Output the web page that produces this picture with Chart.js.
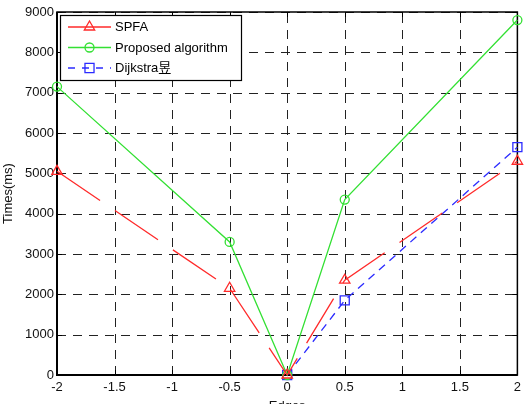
<!DOCTYPE html>
<html>
<head>
<meta charset="utf-8">
<script src="https://cdn.jsdelivr.net/npm/chart.js@4"></script>
<style>
  html, body { margin: 0; padding: 0; background: #fff; overflow: hidden; }
  #wrap { width: 526px; height: 404px; overflow: hidden; }
</style>
</head>
<body>
<div id="wrap"><canvas id="timeChart" width="526" height="415"></canvas></div>
<script>
// values
const edges = [-2, -0.5, 0, 0.5, 2];
const spfaTimes = [5050, 2150, 0, 2350, 5300];
const proposedTimes = [7150, 3300, 0, 4350, 8800];
const dijkstraEdges = [0, 0.5, 2];
const dijkstraTimes = [0, 1850, 5650];
const seriesNames = ['SPFA', 'Proposed algorithm', 'Dijkstra昱'];

const FONT = "'Liberation Sans', Arial, 'Noto Sans CJK SC', sans-serif";

const toPoints = (xs, ys) => xs.map((x, i) => ({ x: x, y: ys[i] }));

// dashed grid, box, inward ticks and the boxed legend, MATLAB style
const frame = {
    id: 'frame',
    beforeDatasetsDraw(chart) {
        const { ctx, chartArea: a, scales } = chart;
        const xs = scales.x.ticks.map(t => Math.round(scales.x.getPixelForValue(t.value)) + 0.5);
        const ys = scales.y.ticks.map(t => Math.round(scales.y.getPixelForValue(t.value)) + 0.5);
        ctx.save();
        ctx.strokeStyle = '#222';
        ctx.lineWidth = 1;
        ctx.setLineDash([9, 7]);
        xs.forEach(px => {
            ctx.beginPath(); ctx.moveTo(px, a.bottom); ctx.lineTo(px, a.top); ctx.stroke();
        });
        ys.forEach(py => {
            ctx.beginPath(); ctx.moveTo(a.left, py); ctx.lineTo(a.right, py); ctx.stroke();
        });
        ctx.setLineDash([]);
        ctx.strokeStyle = '#000';
        ctx.beginPath();
        xs.forEach(px => {
            ctx.moveTo(px, a.bottom); ctx.lineTo(px, a.bottom - 5);
            ctx.moveTo(px, a.top); ctx.lineTo(px, a.top + 5);
        });
        ys.forEach(py => {
            ctx.moveTo(a.left, py); ctx.lineTo(a.left + 5, py);
            ctx.moveTo(a.right, py); ctx.lineTo(a.right - 5, py);
        });
        ctx.stroke();
        ctx.lineWidth = 1.5;
        ctx.strokeRect(a.left, a.top, a.right - a.left, a.bottom - a.top);
        ctx.lineWidth = 2;
        ctx.beginPath();
        ctx.moveTo(a.left, a.top); ctx.lineTo(a.left, a.bottom); ctx.lineTo(a.right, a.bottom);
        ctx.stroke();
        ctx.restore();
    },
    afterDraw(chart) {
        const { ctx } = chart;
        const bx = 60, by = 15, bw = 181, bh = 65;
        ctx.save();
        ctx.fillStyle = '#fff';
        ctx.fillRect(bx, by, bw, bh);
        ctx.strokeStyle = '#000';
        ctx.lineWidth = 1.2;
        ctx.strokeRect(bx + 0.5, by + 0.5, bw, bh);
        chart.data.datasets.forEach((ds, i) => {
            const y = by + 12 + i * 20.5;
            ctx.strokeStyle = ds.borderColor;
            ctx.lineWidth = ds.borderWidth;
            ctx.setLineDash(i === 2 ? [7, 7] : []);
            ctx.beginPath();
            ctx.moveTo(68, y); ctx.lineTo(111, y);
            ctx.stroke();
            ctx.setLineDash([]);
            ctx.fillStyle = 'rgba(0,0,0,0)';
            Chart.helpers.drawPoint(ctx, {
                pointStyle: ds.pointStyle, radius: ds.pointRadius,
                borderWidth: ds.pointBorderWidth, rotation: 0
            }, 89.5, y);
            ctx.fillStyle = '#000';
            ctx.font = '13px ' + FONT;
            ctx.textBaseline = 'middle';
            ctx.textAlign = 'left';
            ctx.fillText(ds.label, 115, y + 0.5);
        });
        ctx.restore();
    }
};

new Chart(document.getElementById('timeChart'), {
    type: 'line',
    data: {
        datasets: [{
            label: seriesNames[0],
            data: toPoints(edges, spfaTimes),
            borderColor: '#ff2a2a',
            borderWidth: 1.3,
            borderDash: [52, 18],
            pointStyle: 'triangle',
            pointRadius: 6,
            pointBorderWidth: 1.3,
            pointBorderColor: '#ff2a2a',
            pointBackgroundColor: 'rgba(0,0,0,0)',
            clip: false
        }, {
            label: seriesNames[1],
            data: toPoints(edges, proposedTimes),
            borderColor: '#33e033',
            borderWidth: 1.3,
            pointStyle: 'circle',
            pointRadius: 4.5,
            pointBorderWidth: 1.3,
            pointBorderColor: '#33e033',
            pointBackgroundColor: 'rgba(0,0,0,0)',
            clip: false
        }, {
            label: seriesNames[2],
            data: toPoints(dijkstraEdges, dijkstraTimes),
            borderColor: '#2b2bff',
            borderWidth: 1.3,
            borderDash: [8, 6],
            pointStyle: 'rect',
            pointRadius: 6.4,
            pointBorderWidth: 1.3,
            pointBorderColor: '#2b2bff',
            pointBackgroundColor: 'rgba(0,0,0,0)',
            clip: false
        }]
    },
    options: {
        responsive: false,
        animation: false,
        devicePixelRatio: 1,
        layout: { padding: { top: 12, right: 8, left: 0, bottom: 0 } },
        plugins: { legend: { display: false }, tooltip: { enabled: false } },
        elements: { line: { tension: 0 } },
        scales: {
            x: {
                type: 'linear',
                min: -2, max: 2,
                afterFit: s => { s.height = 40; },
                ticks: {
                    stepSize: 0.5,
                    padding: 5,
                    color: '#111',
                    font: { family: FONT, size: 13 },
                    callback: v => String(v)
                },
                grid: { display: false, drawTicks: false },
                border: { display: false },
                title: {
                    display: true, text: 'Edges', color: '#111',
                    font: { family: FONT, size: 13 },
                    padding: { top: 0, bottom: 1 }
                }
            },
            y: {
                min: 0, max: 9000,
                afterFit: s => { s.width = 57; },
                ticks: {
                    stepSize: 1000,
                    padding: 3,
                    color: '#111',
                    font: { family: FONT, size: 13 },
                    callback: v => String(v)
                },
                grid: { display: false, drawTicks: false },
                border: { display: false },
                title: {
                    display: true, text: 'Times(ms)', color: '#111',
                    font: { family: FONT, size: 13 },
                    padding: { top: 1, bottom: 0 }
                }
            }
        }
    },
    plugins: [frame]
});
</script>
</body>
</html>
